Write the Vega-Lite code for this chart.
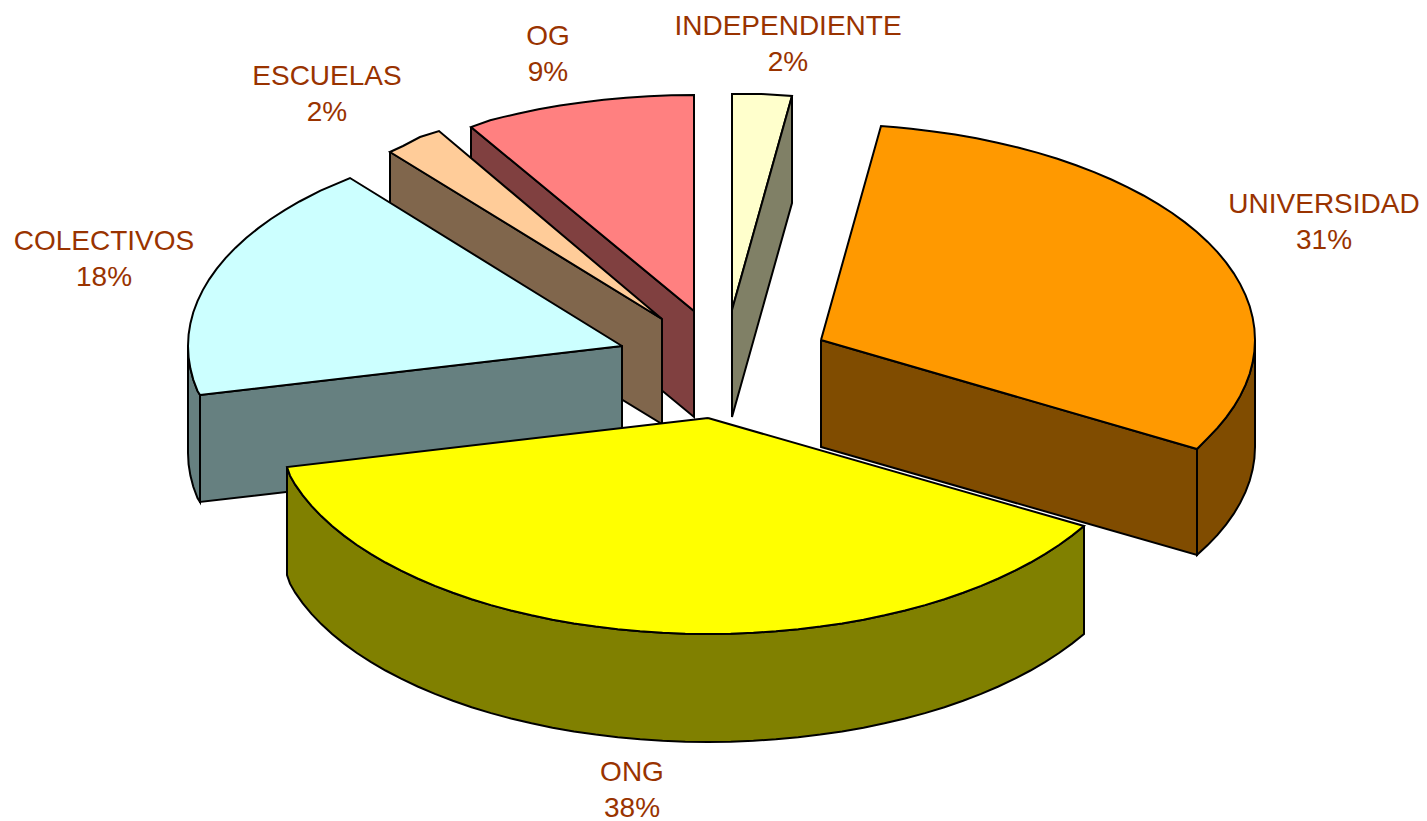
{"$schema":"https://vega.github.io/schema/vega-lite/v6.json","width":1427,"height":821,"padding":0,"autosize":{"type":"none"},"background":"#ffffff","config":{"view":{"stroke":null}},
"layer":[{"data":{"values":[
{"f":"INDEPENDIENTE top","i":1,"x":732,"y":310},{"f":"INDEPENDIENTE top","i":2,"x":732,"y":94},{"f":"INDEPENDIENTE top","i":3,"x":762,"y":94},{"f":"INDEPENDIENTE top","i":4,"x":792,"y":96},{"f":"INDEPENDIENTE top","i":5,"x":732,"y":310},
{"f":"INDEPENDIENTE side","i":1,"x":792,"y":96},{"f":"INDEPENDIENTE side","i":2,"x":732,"y":310},{"f":"INDEPENDIENTE side","i":3,"x":732,"y":417},{"f":"INDEPENDIENTE side","i":4,"x":792,"y":203},{"f":"INDEPENDIENTE side","i":5,"x":792,"y":96},
{"f":"OG side","i":1,"x":471,"y":127},{"f":"OG side","i":2,"x":694,"y":311},{"f":"OG side","i":3,"x":694,"y":417},{"f":"OG side","i":4,"x":471,"y":233},{"f":"OG side","i":5,"x":471,"y":127},
{"f":"OG top","i":1,"x":694,"y":311},{"f":"OG top","i":2,"x":694,"y":95},{"f":"OG top","i":3,"x":648.6,"y":96.2},{"f":"OG top","i":4,"x":603.8,"y":99.7},{"f":"OG top","i":5,"x":559.9,"y":105.6},{"f":"OG top","i":6,"x":517.5,"y":113.7},{"f":"OG top","i":7,"x":490.2,"y":120.3},{"f":"OG top","i":8,"x":471,"y":127},{"f":"OG top","i":9,"x":694,"y":311},
{"f":"OG top","i":2.5,"x":671.3,"y":95.3},{"f":"OG top","i":3.5,"x":626.1,"y":97.7},{"f":"OG top","i":4.5,"x":581.7,"y":102.4},{"f":"OG top","i":5.5,"x":538.5,"y":109.3},{"f":"OG top","i":6.5,"x":503.7,"y":116.9},
{"f":"ESCUELAS side","i":1,"x":390,"y":152},{"f":"ESCUELAS side","i":2,"x":662,"y":319},{"f":"ESCUELAS side","i":3,"x":662,"y":424},{"f":"ESCUELAS side","i":4,"x":390,"y":258},{"f":"ESCUELAS side","i":5,"x":390,"y":152},
{"f":"ESCUELAS top","i":1,"x":662,"y":319},{"f":"ESCUELAS top","i":2,"x":390,"y":152},{"f":"ESCUELAS top","i":3,"x":403,"y":146},{"f":"ESCUELAS top","i":4,"x":420,"y":137},{"f":"ESCUELAS top","i":5,"x":439,"y":131},{"f":"ESCUELAS top","i":6,"x":662,"y":319},
{"f":"COLECTIVOS wall","i":1,"x":188,"y":346},{"f":"COLECTIVOS wall","i":2,"x":190.4,"y":368.6},{"f":"COLECTIVOS wall","i":3,"x":197.5,"y":390.9},{"f":"COLECTIVOS wall","i":4,"x":200,"y":395},{"f":"COLECTIVOS wall","i":5,"x":200,"y":502},{"f":"COLECTIVOS wall","i":6,"x":197.5,"y":498},{"f":"COLECTIVOS wall","i":7,"x":190.4,"y":475.6},{"f":"COLECTIVOS wall","i":8,"x":188,"y":453},{"f":"COLECTIVOS wall","i":9,"x":188,"y":346},
{"f":"COLECTIVOS wall","i":1.5,"x":188.6,"y":357.3},{"f":"COLECTIVOS wall","i":2.5,"x":193.3,"y":379.8},{"f":"COLECTIVOS wall","i":6.5,"x":193.3,"y":486.8},{"f":"COLECTIVOS wall","i":7.5,"x":188.6,"y":464.3},
{"f":"COLECTIVOS cut","i":1,"x":200,"y":395},{"f":"COLECTIVOS cut","i":2,"x":622,"y":346},{"f":"COLECTIVOS cut","i":3,"x":622,"y":453},{"f":"COLECTIVOS cut","i":4,"x":200,"y":502},{"f":"COLECTIVOS cut","i":5,"x":200,"y":395},
{"f":"COLECTIVOS top","i":1,"x":622,"y":346},{"f":"COLECTIVOS top","i":2,"x":350,"y":178},{"f":"COLECTIVOS top","i":3,"x":320.5,"y":190.6},{"f":"COLECTIVOS top","i":4,"x":299.5,"y":201.5},{"f":"COLECTIVOS top","i":5,"x":270.9,"y":219},{"f":"COLECTIVOS top","i":6,"x":246.1,"y":238},{"f":"COLECTIVOS top","i":7,"x":225.5,"y":258.1},{"f":"COLECTIVOS top","i":8,"x":209.2,"y":279.3},{"f":"COLECTIVOS top","i":9,"x":197.5,"y":301.1},{"f":"COLECTIVOS top","i":10,"x":190.4,"y":323.4},{"f":"COLECTIVOS top","i":11,"x":188,"y":346},{"f":"COLECTIVOS top","i":12,"x":190.4,"y":368.6},{"f":"COLECTIVOS top","i":13,"x":197.5,"y":390.9},{"f":"COLECTIVOS top","i":14,"x":200,"y":395},{"f":"COLECTIVOS top","i":15,"x":622,"y":346},
{"f":"COLECTIVOS top","i":4.5,"x":284.7,"y":210.1},{"f":"COLECTIVOS top","i":5.5,"x":258,"y":228.4},{"f":"COLECTIVOS top","i":6.5,"x":235.3,"y":247.9},{"f":"COLECTIVOS top","i":7.5,"x":216.8,"y":268.6},{"f":"COLECTIVOS top","i":8.5,"x":202.8,"y":290.1},{"f":"COLECTIVOS top","i":9.5,"x":193.3,"y":312.2},{"f":"COLECTIVOS top","i":10.5,"x":188.6,"y":334.7},{"f":"COLECTIVOS top","i":11.5,"x":188.6,"y":357.3},{"f":"COLECTIVOS top","i":12.5,"x":193.3,"y":379.8},
{"f":"UNIVERSIDAD wall","i":1,"x":1255,"y":340},{"f":"UNIVERSIDAD wall","i":2,"x":1252.6,"y":362.6},{"f":"UNIVERSIDAD wall","i":3,"x":1245.5,"y":384.9},{"f":"UNIVERSIDAD wall","i":4,"x":1233.8,"y":406.7},{"f":"UNIVERSIDAD wall","i":5,"x":1217.5,"y":427.9},{"f":"UNIVERSIDAD wall","i":6,"x":1197,"y":449},{"f":"UNIVERSIDAD wall","i":7,"x":1197,"y":555},{"f":"UNIVERSIDAD wall","i":8,"x":1217.5,"y":534.9},{"f":"UNIVERSIDAD wall","i":9,"x":1233.8,"y":513.7},{"f":"UNIVERSIDAD wall","i":10,"x":1245.5,"y":491.9},{"f":"UNIVERSIDAD wall","i":11,"x":1252.6,"y":469.6},{"f":"UNIVERSIDAD wall","i":12,"x":1255,"y":447},{"f":"UNIVERSIDAD wall","i":13,"x":1255,"y":340},
{"f":"UNIVERSIDAD wall","i":1.5,"x":1254.4,"y":351.3},{"f":"UNIVERSIDAD wall","i":2.5,"x":1249.7,"y":373.8},{"f":"UNIVERSIDAD wall","i":3.5,"x":1240.2,"y":395.9},{"f":"UNIVERSIDAD wall","i":4.5,"x":1226.2,"y":417.4},{"f":"UNIVERSIDAD wall","i":5.5,"x":1207.7,"y":438.1},{"f":"UNIVERSIDAD wall","i":7.5,"x":1207.7,"y":545.1},{"f":"UNIVERSIDAD wall","i":8.5,"x":1226.2,"y":524.4},{"f":"UNIVERSIDAD wall","i":9.5,"x":1240.2,"y":502.9},{"f":"UNIVERSIDAD wall","i":10.5,"x":1249.7,"y":480.8},{"f":"UNIVERSIDAD wall","i":11.5,"x":1254.4,"y":458.3},
{"f":"UNIVERSIDAD cut","i":1,"x":821,"y":340},{"f":"UNIVERSIDAD cut","i":2,"x":1197,"y":449},{"f":"UNIVERSIDAD cut","i":3,"x":1197,"y":555},{"f":"UNIVERSIDAD cut","i":4,"x":821,"y":447},{"f":"UNIVERSIDAD cut","i":5,"x":821,"y":340},
{"f":"UNIVERSIDAD top","i":1,"x":821,"y":340},{"f":"UNIVERSIDAD top","i":2,"x":881,"y":126},{"f":"UNIVERSIDAD top","i":3,"x":911.2,"y":128.7},{"f":"UNIVERSIDAD top","i":4,"x":955.1,"y":134.6},{"f":"UNIVERSIDAD top","i":5,"x":997.5,"y":142.7},{"f":"UNIVERSIDAD top","i":6,"x":1038,"y":152.9},{"f":"UNIVERSIDAD top","i":7,"x":1076.1,"y":165.3},{"f":"UNIVERSIDAD top","i":8,"x":1111.4,"y":179.5},{"f":"UNIVERSIDAD top","i":9,"x":1143.5,"y":195.5},{"f":"UNIVERSIDAD top","i":10,"x":1172.1,"y":213},{"f":"UNIVERSIDAD top","i":11,"x":1196.9,"y":232},{"f":"UNIVERSIDAD top","i":12,"x":1217.5,"y":252.1},{"f":"UNIVERSIDAD top","i":13,"x":1233.8,"y":273.3},{"f":"UNIVERSIDAD top","i":14,"x":1245.5,"y":295.1},{"f":"UNIVERSIDAD top","i":15,"x":1252.6,"y":317.4},{"f":"UNIVERSIDAD top","i":16,"x":1255,"y":340},{"f":"UNIVERSIDAD top","i":17,"x":1252.6,"y":362.6},{"f":"UNIVERSIDAD top","i":18,"x":1245.5,"y":384.9},{"f":"UNIVERSIDAD top","i":19,"x":1233.8,"y":406.7},{"f":"UNIVERSIDAD top","i":20,"x":1217.5,"y":427.9},{"f":"UNIVERSIDAD top","i":21,"x":1197,"y":449},{"f":"UNIVERSIDAD top","i":22,"x":821,"y":340},
{"f":"UNIVERSIDAD top","i":2.5,"x":896.4,"y":127.3},{"f":"UNIVERSIDAD top","i":3.5,"x":933.3,"y":131.4},{"f":"UNIVERSIDAD top","i":4.5,"x":976.5,"y":138.3},{"f":"UNIVERSIDAD top","i":5.5,"x":1018,"y":147.5},{"f":"UNIVERSIDAD top","i":6.5,"x":1057.4,"y":158.8},{"f":"UNIVERSIDAD top","i":7.5,"x":1094.1,"y":172.1},{"f":"UNIVERSIDAD top","i":8.5,"x":1127.9,"y":187.3},{"f":"UNIVERSIDAD top","i":9.5,"x":1158.3,"y":204.1},{"f":"UNIVERSIDAD top","i":10.5,"x":1185,"y":222.4},{"f":"UNIVERSIDAD top","i":11.5,"x":1207.7,"y":241.9},{"f":"UNIVERSIDAD top","i":12.5,"x":1226.2,"y":262.6},{"f":"UNIVERSIDAD top","i":13.5,"x":1240.2,"y":284.1},{"f":"UNIVERSIDAD top","i":14.5,"x":1249.7,"y":306.2},{"f":"UNIVERSIDAD top","i":15.5,"x":1254.4,"y":328.7},{"f":"UNIVERSIDAD top","i":16.5,"x":1254.4,"y":351.3},{"f":"UNIVERSIDAD top","i":17.5,"x":1249.7,"y":373.8},{"f":"UNIVERSIDAD top","i":18.5,"x":1240.2,"y":395.9},{"f":"UNIVERSIDAD top","i":19.5,"x":1226.2,"y":417.4},{"f":"UNIVERSIDAD top","i":20.5,"x":1207.7,"y":438.1},
{"f":"ONG wall","i":1,"x":1084,"y":526},{"f":"ONG wall","i":2,"x":1059,"y":545},{"f":"ONG wall","i":3,"x":1030.5,"y":562.5},{"f":"ONG wall","i":4,"x":998.4,"y":578.5},{"f":"ONG wall","i":5,"x":963.1,"y":592.7},{"f":"ONG wall","i":6,"x":925,"y":605.1},{"f":"ONG wall","i":7,"x":884.5,"y":615.3},{"f":"ONG wall","i":8,"x":842.1,"y":623.4},{"f":"ONG wall","i":9,"x":798.2,"y":629.3},{"f":"ONG wall","i":10,"x":753.4,"y":632.8},{"f":"ONG wall","i":11,"x":708,"y":634},{"f":"ONG wall","i":12,"x":662.6,"y":632.8},{"f":"ONG wall","i":13,"x":617.8,"y":629.3},{"f":"ONG wall","i":14,"x":573.9,"y":623.4},{"f":"ONG wall","i":15,"x":531.5,"y":615.3},{"f":"ONG wall","i":16,"x":491,"y":605.1},{"f":"ONG wall","i":17,"x":452.9,"y":592.7},{"f":"ONG wall","i":18,"x":417.6,"y":578.5},{"f":"ONG wall","i":19,"x":385.5,"y":562.5},{"f":"ONG wall","i":20,"x":356.9,"y":545},{"f":"ONG wall","i":21,"x":332.1,"y":526},{"f":"ONG wall","i":22,"x":311.5,"y":505.9},{"f":"ONG wall","i":23,"x":295.2,"y":484.7},{"f":"ONG wall","i":24,"x":287,"y":467},
{"f":"ONG wall","i":25,"x":287,"y":575},{"f":"ONG wall","i":26,"x":295.2,"y":592.7},{"f":"ONG wall","i":27,"x":311.5,"y":613.9},{"f":"ONG wall","i":28,"x":332.1,"y":634},{"f":"ONG wall","i":29,"x":356.9,"y":653},{"f":"ONG wall","i":30,"x":385.5,"y":670.5},{"f":"ONG wall","i":31,"x":417.6,"y":686.5},{"f":"ONG wall","i":32,"x":452.9,"y":700.7},{"f":"ONG wall","i":33,"x":491,"y":713.1},{"f":"ONG wall","i":34,"x":531.5,"y":723.3},{"f":"ONG wall","i":35,"x":573.9,"y":731.4},{"f":"ONG wall","i":36,"x":617.8,"y":737.3},{"f":"ONG wall","i":37,"x":662.6,"y":740.8},{"f":"ONG wall","i":38,"x":708,"y":742},{"f":"ONG wall","i":39,"x":753.4,"y":740.8},{"f":"ONG wall","i":40,"x":798.2,"y":737.3},{"f":"ONG wall","i":41,"x":842.1,"y":731.4},{"f":"ONG wall","i":42,"x":884.5,"y":723.3},{"f":"ONG wall","i":43,"x":925,"y":713.1},{"f":"ONG wall","i":44,"x":963.1,"y":700.7},{"f":"ONG wall","i":45,"x":998.4,"y":686.5},{"f":"ONG wall","i":46,"x":1030.5,"y":670.5},{"f":"ONG wall","i":47,"x":1059,"y":653},{"f":"ONG wall","i":48,"x":1084,"y":634},{"f":"ONG wall","i":49,"x":1084,"y":526},
{"f":"ONG wall","i":25.5,"x":290,"y":583.7},{"f":"ONG wall","i":26.5,"x":302.8,"y":603.4},{"f":"ONG wall","i":27.5,"x":321.3,"y":624.1},{"f":"ONG wall","i":28.5,"x":344,"y":643.6},{"f":"ONG wall","i":29.5,"x":370.7,"y":661.9},{"f":"ONG wall","i":30.5,"x":401.1,"y":678.7},{"f":"ONG wall","i":31.5,"x":434.9,"y":693.9},{"f":"ONG wall","i":32.5,"x":471.6,"y":707.2},{"f":"ONG wall","i":33.5,"x":511,"y":718.5},{"f":"ONG wall","i":34.5,"x":552.5,"y":727.7},{"f":"ONG wall","i":35.5,"x":595.7,"y":734.6},{"f":"ONG wall","i":36.5,"x":640.1,"y":739.3},{"f":"ONG wall","i":37.5,"x":685.3,"y":741.7},{"f":"ONG wall","i":38.5,"x":730.7,"y":741.7},{"f":"ONG wall","i":39.5,"x":775.9,"y":739.3},{"f":"ONG wall","i":40.5,"x":820.3,"y":734.6},{"f":"ONG wall","i":41.5,"x":863.5,"y":727.7},{"f":"ONG wall","i":42.5,"x":905,"y":718.5},{"f":"ONG wall","i":43.5,"x":944.4,"y":707.2},{"f":"ONG wall","i":44.5,"x":981.1,"y":693.9},{"f":"ONG wall","i":45.5,"x":1014.9,"y":678.7},{"f":"ONG wall","i":46.5,"x":1045.3,"y":661.9},{"f":"ONG wall","i":47.5,"x":1072,"y":643.6},
{"f":"ONG top","i":1,"x":708,"y":418},{"f":"ONG top","i":2,"x":1084,"y":526},{"f":"ONG top","i":3,"x":1059,"y":545},{"f":"ONG top","i":4,"x":1030.5,"y":562.5},{"f":"ONG top","i":5,"x":998.4,"y":578.5},{"f":"ONG top","i":6,"x":963.1,"y":592.7},{"f":"ONG top","i":7,"x":925,"y":605.1},{"f":"ONG top","i":8,"x":884.5,"y":615.3},{"f":"ONG top","i":9,"x":842.1,"y":623.4},{"f":"ONG top","i":10,"x":798.2,"y":629.3},{"f":"ONG top","i":11,"x":753.4,"y":632.8},{"f":"ONG top","i":12,"x":708,"y":634},{"f":"ONG top","i":13,"x":662.6,"y":632.8},{"f":"ONG top","i":14,"x":617.8,"y":629.3},{"f":"ONG top","i":15,"x":573.9,"y":623.4},{"f":"ONG top","i":16,"x":531.5,"y":615.3},{"f":"ONG top","i":17,"x":491,"y":605.1},{"f":"ONG top","i":18,"x":452.9,"y":592.7},{"f":"ONG top","i":19,"x":417.6,"y":578.5},{"f":"ONG top","i":20,"x":385.5,"y":562.5},{"f":"ONG top","i":21,"x":356.9,"y":545},{"f":"ONG top","i":22,"x":332.1,"y":526},{"f":"ONG top","i":23,"x":311.5,"y":505.9},{"f":"ONG top","i":24,"x":295.2,"y":484.7},{"f":"ONG top","i":25,"x":287,"y":467},{"f":"ONG top","i":26,"x":708,"y":418},
{"f":"ONG top","i":2.5,"x":1072,"y":535.6},{"f":"ONG top","i":3.5,"x":1045.3,"y":553.9},{"f":"ONG top","i":4.5,"x":1014.9,"y":570.7},{"f":"ONG top","i":5.5,"x":981.1,"y":585.9},{"f":"ONG top","i":6.5,"x":944.4,"y":599.2},{"f":"ONG top","i":7.5,"x":905,"y":610.5},{"f":"ONG top","i":8.5,"x":863.5,"y":619.7},{"f":"ONG top","i":9.5,"x":820.3,"y":626.6},{"f":"ONG top","i":10.5,"x":775.9,"y":631.3},{"f":"ONG top","i":11.5,"x":730.7,"y":633.7},{"f":"ONG top","i":12.5,"x":685.3,"y":633.7},{"f":"ONG top","i":13.5,"x":640.1,"y":631.3},{"f":"ONG top","i":14.5,"x":595.7,"y":626.6},{"f":"ONG top","i":15.5,"x":552.5,"y":619.7},{"f":"ONG top","i":16.5,"x":511,"y":610.5},{"f":"ONG top","i":17.5,"x":471.6,"y":599.2},{"f":"ONG top","i":18.5,"x":434.9,"y":585.9},{"f":"ONG top","i":19.5,"x":401.1,"y":570.7},{"f":"ONG top","i":20.5,"x":370.7,"y":553.9},{"f":"ONG top","i":21.5,"x":344,"y":535.6},{"f":"ONG top","i":22.5,"x":321.3,"y":516.1},{"f":"ONG top","i":23.5,"x":302.8,"y":495.4},{"f":"ONG top","i":24.5,"x":290,"y":475.7},
{"f":"ONG wall","i":1.5,"x":1072,"y":535.6},{"f":"ONG wall","i":2.5,"x":1045.3,"y":553.9},{"f":"ONG wall","i":3.5,"x":1014.9,"y":570.7},{"f":"ONG wall","i":4.5,"x":981.1,"y":585.9},{"f":"ONG wall","i":5.5,"x":944.4,"y":599.2},{"f":"ONG wall","i":6.5,"x":905,"y":610.5},{"f":"ONG wall","i":7.5,"x":863.5,"y":619.7},{"f":"ONG wall","i":8.5,"x":820.3,"y":626.6},{"f":"ONG wall","i":9.5,"x":775.9,"y":631.3},{"f":"ONG wall","i":10.5,"x":730.7,"y":633.7},{"f":"ONG wall","i":11.5,"x":685.3,"y":633.7},{"f":"ONG wall","i":12.5,"x":640.1,"y":631.3},{"f":"ONG wall","i":13.5,"x":595.7,"y":626.6},{"f":"ONG wall","i":14.5,"x":552.5,"y":619.7},{"f":"ONG wall","i":15.5,"x":511,"y":610.5},{"f":"ONG wall","i":16.5,"x":471.6,"y":599.2},{"f":"ONG wall","i":17.5,"x":434.9,"y":585.9},{"f":"ONG wall","i":18.5,"x":401.1,"y":570.7},{"f":"ONG wall","i":19.5,"x":370.7,"y":553.9},{"f":"ONG wall","i":20.5,"x":344,"y":535.6},{"f":"ONG wall","i":21.5,"x":321.3,"y":516.1},{"f":"ONG wall","i":22.5,"x":302.8,"y":495.4},{"f":"ONG wall","i":23.5,"x":290,"y":475.7}
]},
"mark":{"type":"line","stroke":"#000000","strokeWidth":2,"strokeJoin":"miter","clip":false},
"encoding":{
"x":{"field":"x","type":"quantitative","scale":{"domain":[0,1427],"nice":false,"zero":false},"axis":null},
"y":{"field":"y","type":"quantitative","scale":{"domain":[821,0],"nice":false,"zero":false},"axis":null},
"detail":{"field":"f"},
"order":{"field":"i","type":"quantitative"},
"fill":{"field":"f","type":"nominal","legend":null,"scale":{
"domain":["INDEPENDIENTE top","INDEPENDIENTE side","OG side","OG top","ESCUELAS side","ESCUELAS top","COLECTIVOS wall","COLECTIVOS cut","COLECTIVOS top","UNIVERSIDAD wall","UNIVERSIDAD cut","UNIVERSIDAD top","ONG wall","ONG top"],
"range":["#FFFFCC","#808066","#804040","#FF8080","#80664C","#FFCC99","#668080","#668080","#CCFFFF","#804C00","#804C00","#FF9900","#808000","#FFFF00"]}}
}},
{"data":{"values":[
{"name":"INDEPENDIENTE\n2%","x":788,"y":27},{"name":"OG\n9%","x":548,"y":37},{"name":"ESCUELAS\n2%","x":327,"y":77},{"name":"UNIVERSIDAD\n31%","x":1324,"y":205},{"name":"COLECTIVOS\n18%","x":104,"y":242},{"name":"ONG\n38%","x":632,"y":773}
]},
"mark":{"type":"text","font":"Liberation Sans","fontSize":28,"fill":"#993300","align":"center","baseline":"middle","lineBreak":"\n","lineHeight":35.5},
"encoding":{
"x":{"field":"x","type":"quantitative","scale":{"domain":[0,1427],"nice":false,"zero":false},"axis":null},
"y":{"field":"y","type":"quantitative","scale":{"domain":[821,0],"nice":false,"zero":false},"axis":null},
"text":{"field":"name"}
}}
]}
